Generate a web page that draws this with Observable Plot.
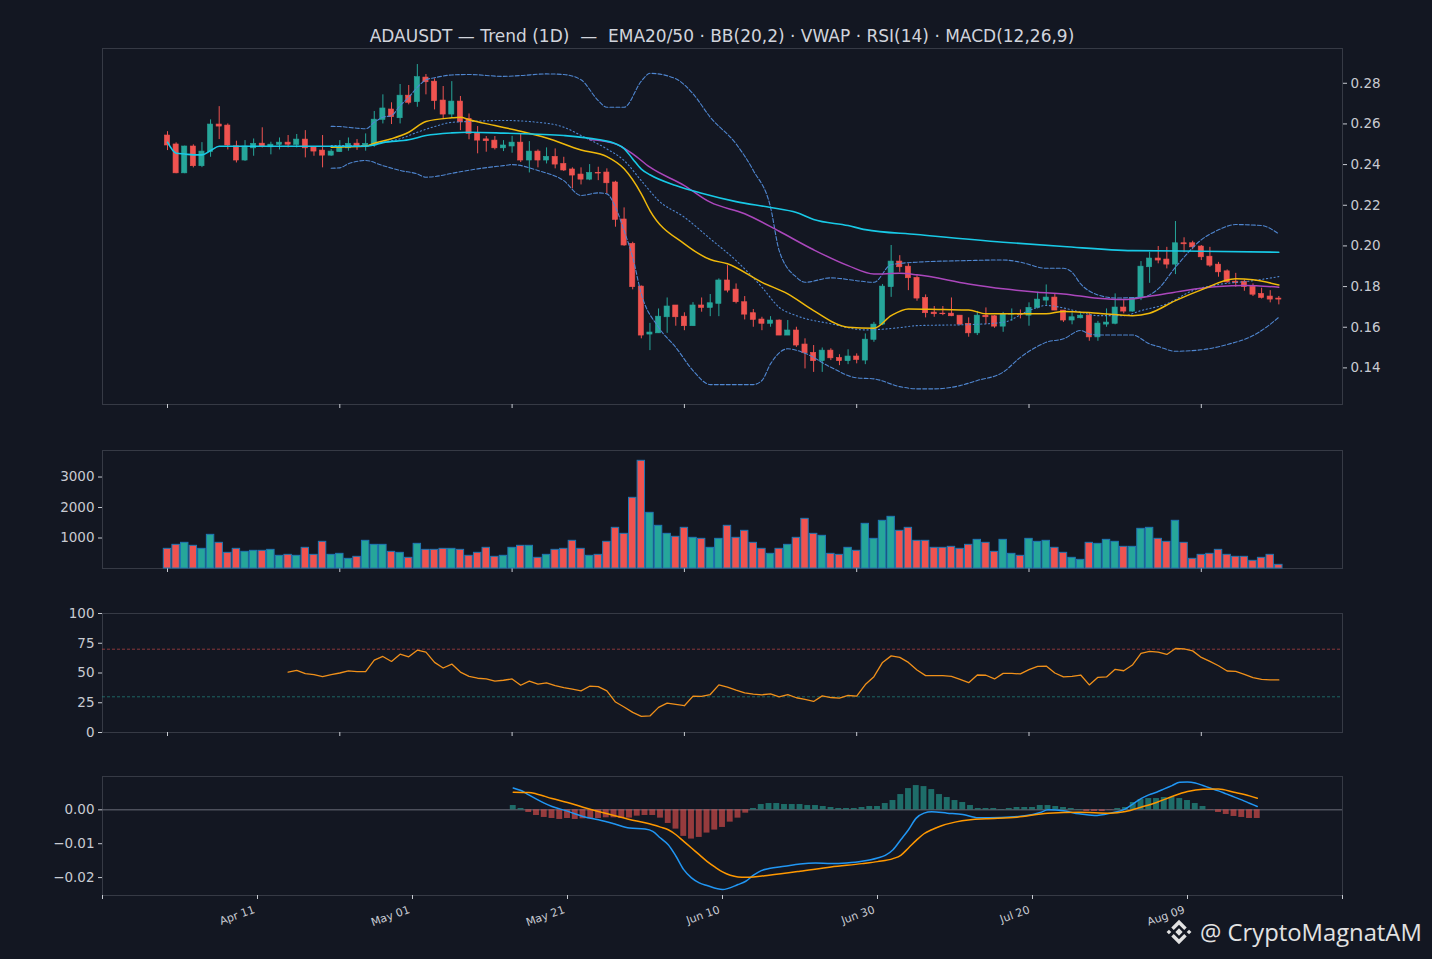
<!DOCTYPE html>
<html><head><meta charset="utf-8">
<script src="https://cdn.jsdelivr.net/npm/d3@7"></script>
<script src="https://cdn.jsdelivr.net/npm/@observablehq/plot@0.6"></script>
<style>
html,body{margin:0;padding:0;background:#131722;overflow:hidden;}
#wrap{position:relative;width:1432px;height:959px;background:#131722;font-family:"DejaVu Sans",sans-serif;}
.panel{position:absolute;left:0;}
#title{position:absolute;left:102px;width:1240px;top:26px;text-align:center;color:#d1d4dc;font-size:17px;white-space:pre;line-height:20px;font-family:"DejaVu Sans",sans-serif;}
#wm{position:absolute;left:1164px;top:914px;height:36px;display:flex;align-items:center;color:#e2e2e2;font-family:"Open Sans",sans-serif;font-size:23.8px;white-space:nowrap;}
#wm svg{margin-right:6px;}
</style></head>
<body><div id="wrap"><div id="title">ADAUSDT — Trend (1D)  —  EMA20/50 · BB(20,2) · VWAP · RSI(14) · MACD(12,26,9)</div>
<div id="wm"><svg width="30" height="30" viewBox="0 0 28 28"><g fill="#e2e2e2">
<polygon points="14,10.6 17.4,14 14,17.4 10.6,14"/>
<polygon points="4.6,11.8 6.8,14 4.6,16.2 2.4,14"/>
<polygon points="23.4,11.8 25.6,14 23.4,16.2 21.2,14"/>
<polygon points="14,2.6 21.2,9.8 18.9,12.1 14,7.2 9.1,12.1 6.8,9.8"/>
<polygon points="14,25.4 21.2,18.2 18.9,15.9 14,20.8 9.1,15.9 6.8,18.2"/>
</g></svg><span>@ CryptoMagnatAM</span></div>
</div>
<script>
// ---------- candles (index 0 = Apr 11) ----------
const openP = [.2543,.2499,.2357,.2489,.2392,.2461,.2597,.2592,.2490,.2420,
.2480,.2503,.2485,.2497,.2508,.2497,.2523,.2484,.2469,.2444,
.2461,.2480,.2503,.2490,.2494,.2620,.2671,.2628,.2739,.2707,
.2828,.2808,.2715,.2646,.2710,.2625,.2554,.2524,.2518,.2480,
.2489,.2508,.2420,.2464,.2420,.2438,.2403,.2376,.2351,.2326,
.2359,.2361,.2312,.2130,.2010,.1800,.1564,.1570,.1649,.1707,
.1652,.1605,.1707,.1695,.1715,.1830,.1785,.1723,.1669,.1638,
.1617,.1633,.1559,.1584,.1515,.1474,.1433,.1485,.1449,.1433,
.1456,.1436,.1538,.1613,.1797,.1923,.1898,.1843,.1744,.1672,
.1667,.1667,.1657,.1617,.1570,.1657,.1654,.1603,.1662,.1666,
.1657,.1695,.1731,.1746,.1682,.1633,.1644,.1657,.1550,.1613,
.1617,.1697,.1677,.1744,.1895,.1938,.1933,.1908,.2013,.2013,
.1997,.1947,.1908,.1875,.1824,.1824,.1800,.1764,.1751,.1741];
const highP = [.2562,.2507,.2491,.2497,.2508,.2620,.2685,.2600,.2515,.2518,
.2526,.2581,.2510,.2531,.2543,.2548,.2567,.2487,.2543,.2474,
.2518,.2531,.2523,.2551,.2661,.2743,.2704,.2794,.2789,.2892,
.2843,.2822,.2784,.2808,.2735,.2649,.2587,.2538,.2538,.2518,
.2539,.2548,.2513,.2472,.2482,.2477,.2436,.2384,.2384,.2400,
.2387,.2379,.2318,.2187,.2018,.1803,.1619,.1690,.1744,.1707,
.1671,.1721,.1744,.1761,.1838,.1903,.1813,.1751,.1687,.1649,
.1652,.1636,.1633,.1600,.1543,.1510,.1498,.1494,.1465,.1489,
.1469,.1567,.1624,.1810,.2002,.1952,.1912,.1854,.1759,.1702,
.1702,.1744,.1657,.1646,.1678,.1695,.1657,.1673,.1690,.1685,
.1720,.1772,.1808,.1764,.1682,.1671,.1671,.1671,.1629,.1690,
.1764,.1731,.1744,.1923,.1969,.1997,.1993,.2120,.2040,.2023,
.2002,.1993,.1919,.1882,.1865,.1833,.1813,.1792,.1780,.1751];
const lowP = [.2469,.2355,.2355,.2384,.2385,.2436,.2523,.2472,.2408,.2416,
.2441,.2482,.2448,.2472,.2482,.2482,.2433,.2441,.2384,.2441,
.2461,.2466,.2470,.2466,.2485,.2600,.2597,.2600,.2694,.2682,
.2743,.2669,.2625,.2628,.2567,.2522,.2453,.2461,.2472,.2464,
.2456,.2410,.2359,.2384,.2403,.2379,.2366,.2281,.2300,.2321,
.2321,.2256,.2092,.1998,.1784,.1543,.1485,.1570,.1570,.1605,
.1583,.1605,.1674,.1652,.1652,.1769,.1715,.1636,.1600,.1583,
.1600,.1559,.1559,.1501,.1395,.1378,.1378,.1436,.1411,.1416,
.1420,.1416,.1526,.1608,.1747,.1870,.1780,.1728,.1646,.1649,
.1657,.1652,.1608,.1551,.1559,.1613,.1595,.1575,.1629,.1641,
.1605,.1690,.1707,.1682,.1624,.1612,.1641,.1531,.1531,.1600,
.1612,.1666,.1674,.1731,.1816,.1912,.1887,.1859,.1966,.1981,
.1928,.1895,.1846,.1816,.1797,.1777,.1751,.1739,.1720,.1710];
const closeP = [.2494,.2357,.2489,.2392,.2464,.2597,.2587,.2494,.2420,.2489,
.2502,.2487,.2498,.2508,.2498,.2523,.2480,.2464,.2444,.2464,
.2485,.2502,.2490,.2502,.2621,.2676,.2633,.2739,.2704,.2830,
.2805,.2712,.2646,.2710,.2608,.2551,.2518,.2515,.2480,.2494,
.2508,.2420,.2464,.2420,.2438,.2400,.2371,.2346,.2326,.2359,
.2356,.2308,.2128,.2002,.1797,.1559,.1574,.1652,.1702,.1649,
.1605,.1707,.1695,.1718,.1830,.1780,.1723,.1662,.1636,.1617,
.1633,.1559,.1584,.1510,.1472,.1433,.1485,.1447,.1433,.1456,
.1439,.1539,.1613,.1800,.1923,.1895,.1841,.1741,.1669,.1664,
.1664,.1654,.1613,.1570,.1657,.1649,.1603,.1666,.1666,.1661,
.1695,.1736,.1746,.1682,.1633,.1649,.1657,.1550,.1618,.1623,
.1697,.1677,.1744,.1898,.1938,.1928,.1908,.2013,.2008,.1993,
.1944,.1903,.1870,.1821,.1818,.1797,.1760,.1744,.1736,.1736];
const volume = [645,776,842,744,645,1104,842,514,645,547,
580,580,612,416,448,416,678,448,875,448,
481,317,383,908,776,776,547,514,350,809,
612,612,645,645,612,416,514,678,383,416,
678,744,744,350,448,612,645,908,645,416,
448,875,1334,1137,2318,3532,1826,1400,1137,1039,
1334,1006,973,678,973,1400,1006,1236,842,645,
481,645,776,1006,1629,1137,1072,481,448,678,
580,1465,973,1564,1695,1236,1334,908,908,678,
678,711,645,776,940,842,547,940,481,416,
973,875,908,678,514,350,284,842,809,940,
875,711,711,1301,1334,973,875,1564,842,317,
448,481,612,448,383,383,252,350,448,120];

// ---------- overlay lines (read at these candle indices) ----------
const vwapIdx = [0,1,2,3,4,5,6,10,15,20,23,24,25,28,30,33,35,39,46,50,52,53,54,55,56,59,62,66,70,73,75,79,81,87,97,104,112,120,129];
const vwapVal = [.2510,.2456,.2452,.2448,.2448,.2469,.2490,.2490,.2490,.2490,.2490,.2497,.2508,.2522,.2543,.2556,.2559,.2555,.2543,.2523,.2503,.2479,.2428,.2378,.2350,.2297,.2259,.2218,.2189,.2164,.2130,.2100,.2080,.2056,.2018,.1997,.1977,.1974,.1969];
const ema20Idx = [19,23,24,26,28,30,33,34,35,38,41,44,48,51,53,55,56,60,63,65,69,72,75,79,82,84,86,90,93,95,102,104,108,112,114,117,120,124,126,129];
const ema20Val = [.2485,.2490,.2505,.2527,.2559,.2612,.2630,.2633,.2621,.2592,.2564,.2531,.2472,.2439,.2379,.2256,.2174,.2010,.1933,.1912,.1821,.1764,.1682,.1600,.1595,.1657,.1690,.1687,.1685,.1666,.1666,.1678,.1669,.1657,.1669,.1731,.1784,.1838,.1833,.1808];
const ema50Idx = [49,52,54,56,60,63,67,71,75,79,82,85,87,93,97,101,104,108,111,114,118,122,125,129];
const ema50Val = [.2523,.2502,.2453,.2387,.2297,.2215,.2158,.2072,.1981,.1903,.1862,.1865,.1858,.1813,.1789,.1772,.1764,.1742,.1736,.1752,.1780,.1800,.1805,.1797];
const bbUpIdx = [19,20,22,23,24,25,26,27,28,29,30,31,33,35,39,41,44,46,48,50,51,53,55,56,59,61,63,66,68,70,71,73,74,77,80,82,84,87,93,97,99,102,104,105,106,108,110,113,115,117,120,122,124,127,129];
const bbUpVal = [.2588,.2587,.2579,.2576,.2608,.2633,.2641,.2690,.2731,.2780,.2817,.2827,.2841,.2843,.2834,.2838,.2846,.2843,.2817,.2715,.2682,.2682,.2810,.2849,.2822,.2748,.2633,.2502,.2371,.2190,.1977,.1846,.1821,.1843,.1829,.1821,.1908,.1920,.1928,.1931,.1920,.1890,.1890,.1870,.1813,.1759,.1744,.1747,.1789,.1895,.2030,.2079,.2105,.2100,.2059];
const bbMidIdx = [19,23,25,27,29,31,33,35,39,43,46,48,51,53,55,57,60,63,66,69,71,73,77,81,85,87,93,97,100,102,104,106,108,111,113,116,119,122,126,129];
const bbMidVal = [.2494,.2494,.2510,.2527,.2559,.2587,.2608,.2612,.2617,.2608,.2584,.2543,.2477,.2420,.2321,.2223,.2141,.2035,.1928,.1797,.1698,.1657,.1617,.1587,.1598,.1608,.1613,.1624,.1682,.1707,.1695,.1674,.1657,.1657,.1682,.1715,.1780,.1810,.1829,.1849];
const bbLoIdx = [19,20,21,23,25,27,29,30,31,33,36,39,40,43,46,48,50,51,52,53,54,55,57,59,61,63,66,68,69,70,72,74,77,80,82,85,87,89,92,94,97,99,101,102,104,106,107,108,112,114,115,117,120,123,126,127,129];
const bbLoVal = [.2382,.2384,.2404,.2420,.2395,.2371,.2354,.2338,.2341,.2357,.2379,.2395,.2400,.2371,.2321,.2248,.2261,.2256,.2190,.2075,.1944,.1764,.1600,.1501,.1387,.1318,.1318,.1318,.1338,.1420,.1494,.1472,.1403,.1351,.1346,.1308,.1297,.1297,.1313,.1338,.1379,.1452,.1506,.1526,.1543,.1584,.1567,.1562,.1562,.1518,.1505,.1482,.1489,.1515,.1559,.1584,.1649];

// ---------- RSI(14), from index 14 ----------
const rsiStart = 14;
const rsiVal = [50.8,52.2,49.4,48.6,46.9,48.6,50,51.7,51.1,51.1,
60.8,63.9,59.7,65.8,63.6,69.2,67.5,58.9,54.2,57.5,
50.8,47.2,45.6,45,43.1,43.9,45,39.7,43.1,40.6,
41.7,39.4,37.8,36.4,35,38.9,38.6,35,25.6,21.4,
16.9,13.6,13.9,21.1,24.7,23.6,22.5,30.6,30.3,31.9,
40,38.1,35.6,33.3,32.2,31.7,32.5,30,31.9,29.2,
27.8,26.1,30.8,29.4,28.9,31.1,30.6,40.3,46.9,58.9,
64.4,63.1,58.9,52.5,47.8,47.8,47.8,47.2,44.7,41.9,
48.3,48.1,45,49.7,49.7,49.2,52.8,55.6,55.8,50,
46.7,47.2,48.3,40,46.4,46.7,53.1,51.9,56.7,66.4,
68.1,67.5,65.6,70.6,70.3,68.6,63.1,59.7,56.1,51.7,
51.4,48.9,46.1,44.7,44.2,44.2];

// ---------- MACD(12,26,9), from index 33 ----------
const histStart = 33;
const histVal = [.00127,.0004,-.00078,-.00167,-.00225,-.00255,-.00284,-.00255,-.00284,-.00265,
-.00265,-.00255,-.00235,-.00235,-.00255,-.00245,-.00186,-.00167,-.00167,-.00245,
-.00402,-.00569,-.00784,-.00863,-.00814,-.00686,-.00598,-.0052,-.00363,-.00245,
-.00098,.0004,.00157,.00186,.00186,.00157,.00157,.00157,.00127,.00127,
.00098,.00069,.0004,.0004,.0004,.00069,.00098,.00098,.00186,.00275,
.00451,.00627,.00716,.00686,.00598,.00451,.00363,.00275,.00216,.00127,
.0004,.0004,.0004,.0001,.0004,.00069,.00069,.00069,.00127,.00127,
.00098,.00069,.0004,.0001,-.00049,-.00049,-.00049,-.0001,.0004,.00069,
.00216,.00304,.00333,.00333,.00363,.00363,.00333,.00275,.00186,.00098,
-.0001,-.00078,-.00137,-.00196,-.00225,-.00255,-.00255];
const macdIdx = [33,34,35,36,37,38,40,42,44,46,48,50,51,52,53,54,55,56,57,58,60,62,63,64,65,66,68,70,72,74,76,78,80,81,82,83,84,85,86,87,89,91,93,96,99,101,102,104,106,108,110,112,113,114,115,116,117,118,119,120,121,122,123,124,125,126,127,128,129];
const macdVal = [.00647,.00569,.00441,.00314,.00196,.00098,-.00039,-.00196,-.00294,-.00412,-.00539,-.00569,-.00637,-.00833,-.0103,-.0137,-.01765,-.0201,-.02157,-.02235,-.02353,-.02206,-.02108,-.01931,-.01794,-.01735,-.01667,-.01598,-.01569,-.01588,-.01569,-.0152,-.01422,-.01343,-.01176,-.00882,-.00588,-.00245,-.00098,-.00059,-.00098,-.00137,-.00235,-.00225,-.00176,-.00078,0,-.0003,-.00118,-.00167,-.00098,.0003,.00176,.00333,.00441,.0052,.00618,.00716,.00814,.00824,.00794,.00716,.00637,.00559,.0047,.00382,.00294,.00196,.00098];
const sigIdx = [33,35,36,38,40,42,44,46,48,50,51,52,53,54,55,56,57,58,59,60,61,62,63,64,66,70,74,78,80,82,83,84,85,86,87,88,90,92,94,98,102,106,110,112,114,116,118,120,122,124,126,128,129];
const sigVal = [.0052,.0051,.0047,.00333,.00216,.00078,-.00049,-.00167,-.00284,-.00382,-.00441,-.0051,-.00588,-.00735,-.00931,-.01127,-.01324,-.0152,-.01686,-.01833,-.01931,-.0198,-.0199,-.0198,-.01931,-.01814,-.01686,-.01588,-.01529,-.01441,-.01343,-.01127,-.00902,-.00706,-.00588,-.0049,-.00363,-.00294,-.00265,-.00216,-.00098,-.00069,-.00098,-.00049,.00078,.00216,.00392,.00539,.00608,.00618,.0052,.00412,.00343];

// ---------- ticks ----------
const priceTicks = [0.14,0.16,0.18,0.20,0.22,0.24,0.26,0.28];
const volTicks = [1000,2000,3000];
const rsiTicks = [0,25,50,75,100];
const macdTicks = [0,-0.01,-0.02];
const tickIdx = [0,20,40,60,80,100,120];
const tickLabels = ["Apr 11","May 01","May 21","Jun 10","Jun 30","Jul 20","Aug 09"];
const edgeTickIdx = [-20,140];

// ---------- build ----------
const UP = "#26a69a", DN = "#ef5350", BB = "#4f86d0";
const candles = openP.map((o,i)=>({i, open:o, high:highP[i], low:lowP[i], close:closeP[i], vol:volume[i]}));
const dirColor = d => d.close >= d.open ? UP : DN;
const pts = (idx, val) => idx.map((i,k)=>({i, v:val[k]}));
const rsiRows = rsiVal.map((v,k)=>({i:rsiStart+k, v}));
const histRows = histVal.map((v,k)=>({i:histStart+k, v}));

const W = 1432, ML = 102, MR = 90;
const baseStyle = {background:"transparent", color:"#c8cbd2", fontFamily:"DejaVu Sans, sans-serif", fontSize:"13.5px", overflow:"visible"};
const frameStroke = "#363a45";
const wrap = document.getElementById("wrap");
function place(svg, top){ svg.classList.add("panel"); svg.style.position="absolute"; svg.style.top=top+"px"; svg.style.left="0px"; wrap.appendChild(svg); }
const xIdx = {domain:[-7.545,136.39], label:null};
const xTicksNoLabel = Plot.axisX({ticks:tickIdx, tickFormat:()=>"", tickSize:4, label:null});

// Panel 1: price
const p1 = Plot.plot({
  width:W, height:386, marginLeft:ML, marginRight:MR, marginTop:10, marginBottom:20,
  style:baseStyle, x:xIdx, y:{domain:[0.1220,0.2971], label:null}, color:{type:"identity"},
  marks:[
    Plot.frame({stroke:frameStroke}),
    Plot.axisY({anchor:"right", ticks:priceTicks, tickFormat:d3.format(".2f"), tickSize:4, tickPadding:4, label:null}),
    xTicksNoLabel,
    Plot.ruleX(candles, {x:"i", y1:"low", y2:"high", stroke:dirColor, strokeWidth:1}),
    Plot.rect(candles, {x1:d=>d.i-0.3, x2:d=>d.i+0.3, y1:"open", y2:"close", fill:dirColor, stroke:dirColor, strokeWidth:0.6}),
    Plot.line(pts(bbUpIdx,bbUpVal), {x:"i", y:"v", stroke:BB, strokeWidth:1.1, strokeDasharray:"4,2", curve:"monotone-x"}),
    Plot.line(pts(bbLoIdx,bbLoVal), {x:"i", y:"v", stroke:BB, strokeWidth:1.1, strokeDasharray:"4,2", curve:"monotone-x"}),
    Plot.line(pts(bbMidIdx,bbMidVal), {x:"i", y:"v", stroke:BB, strokeWidth:1.1, strokeDasharray:"1.2,2.6", curve:"monotone-x"}),
    Plot.line(pts(ema50Idx,ema50Val), {x:"i", y:"v", stroke:"#ab47bc", strokeWidth:1.5, curve:"monotone-x"}),
    Plot.line(pts(ema20Idx,ema20Val), {x:"i", y:"v", stroke:"#f0b90b", strokeWidth:1.5, curve:"monotone-x"}),
    Plot.line(pts(vwapIdx,vwapVal), {x:"i", y:"v", stroke:"#18c9e6", strokeWidth:1.6, curve:"monotone-x"})
  ]
});
place(p1, 38);

// Panel 2: volume
const p2 = Plot.plot({
  width:W, height:148, marginLeft:ML, marginRight:MR, marginTop:10, marginBottom:20,
  style:baseStyle, x:xIdx, y:{domain:[0,3870], label:null}, color:{type:"identity"},
  marks:[
    Plot.frame({stroke:frameStroke}),
    Plot.axisY({anchor:"left", ticks:volTicks, tickFormat:d=>String(d), tickSize:4, tickPadding:4, label:null}),
    xTicksNoLabel,
    Plot.rect(candles, {x1:d=>d.i-0.43, x2:d=>d.i+0.43, y1:0, y2:"vol", fill:dirColor, stroke:"#1f77b4", strokeWidth:1})
  ]
});
place(p2, 440);

// Panel 3: RSI
const p3 = Plot.plot({
  width:W, height:149, marginLeft:ML, marginRight:MR, marginTop:10, marginBottom:20,
  style:baseStyle, x:xIdx, y:{domain:[0,100], label:null},
  marks:[
    Plot.frame({stroke:frameStroke}),
    Plot.axisY({anchor:"left", ticks:rsiTicks, tickFormat:d=>String(d), tickSize:4, tickPadding:4, label:null}),
    xTicksNoLabel,
    Plot.ruleY([70], {stroke:DN, strokeOpacity:0.55, strokeWidth:1, strokeDasharray:"3,2"}),
    Plot.ruleY([30], {stroke:UP, strokeOpacity:0.55, strokeWidth:1, strokeDasharray:"3,2"}),
    Plot.line(rsiRows, {x:"i", y:"v", stroke:"#f0901a", strokeWidth:1.3})
  ]
});
place(p3, 602.5);

// Panel 4: MACD
const p4 = Plot.plot({
  width:W, height:179, marginLeft:ML, marginRight:MR, marginTop:10, marginBottom:50,
  style:baseStyle, x:{domain:[-20,140], label:null}, y:{domain:[-0.02529,0.00984], label:null}, color:{type:"identity"},
  marks:[
    Plot.frame({stroke:frameStroke}),
    Plot.axisY({anchor:"left", ticks:macdTicks, tickFormat:d3.format(".2f"), tickSize:4, tickPadding:4, label:null}),
    Plot.axisX({ticks:edgeTickIdx.concat(tickIdx), tickFormat:()=>"", tickSize:4, label:null}),
    Plot.text(tickIdx.map((t,k)=>({i:t, s:tickLabels[k]})), {x:"i", frameAnchor:"bottom", dy:17, dx:-2, text:"s", rotate:-20, textAnchor:"end", fontSize:11, fill:"#c8cbd2"}),
    Plot.ruleY([0], {stroke:"#6a6e79", strokeWidth:1}),
    Plot.rect(histRows, {x1:d=>d.i-0.38, x2:d=>d.i+0.38, y1:0, y2:"v", fill:d=>d.v>=0?UP:DN, fillOpacity:0.6}),
    Plot.line(pts(macdIdx,macdVal), {x:"i", y:"v", stroke:"#2196f3", strokeWidth:1.5, curve:"monotone-x"}),
    Plot.line(pts(sigIdx,sigVal), {x:"i", y:"v", stroke:"#ff9800", strokeWidth:1.5, curve:"monotone-x"})
  ]
});
place(p4, 766);
</script>
</body></html>
